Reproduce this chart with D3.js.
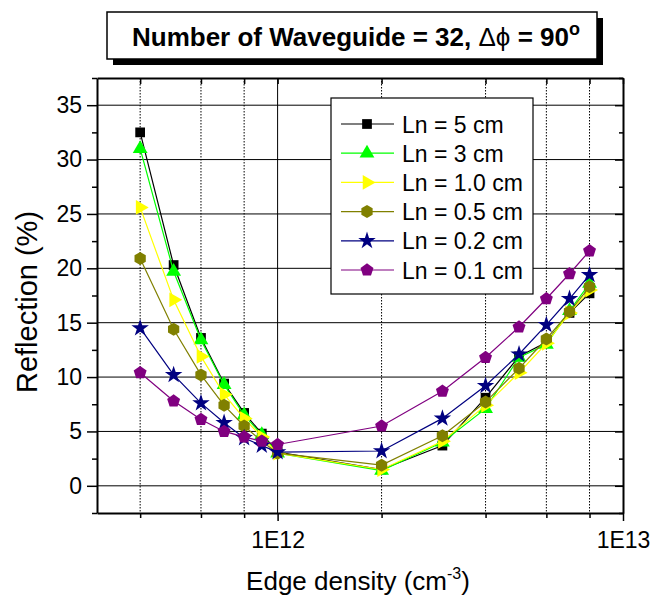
<!DOCTYPE html>
<html>
<head>
<meta charset="utf-8">
<script src="https://cdn.jsdelivr.net/npm/d3@7"></script>
<style>
  html, body { margin: 0; padding: 0; background: #fff; }
  svg { display: block; }
  text { font-family: "Liberation Sans", Arial, sans-serif; fill: #000; }
</style>
</head>
<body>
<svg id="chart" width="658" height="603"></svg>
<script>
// Edge density samples (cm^-3)
const density = [4e11, 5e11, 6e11, 7e11, 8e11, 9e11, 1e12, 2e12, 3e12, 4e12, 5e12, 6e12, 7e12, 8e12];

// Reflection (%) for each Ln
const ln5cm   = [32.5, 20.3, 13.6, 9.4, 6.7, 4.8, 3.1, 1.5, 3.7, 8.1, 11.9, 13.2, 15.9, 17.7];
const ln3cm   = [31.0, 19.7, 13.4, 9.3, 6.5, 4.7, 3.0, 1.4, 4.0, 7.1, 11.8, 13.0, 16.1, 18.6];
const ln1_0cm = [25.6, 17.1, 11.9, 8.4, 6.2, 4.5, 3.0, 1.5, 4.1, 7.4, 10.4, 13.1, 15.9, 18.0];
const ln0_5cm = [20.9, 14.4, 10.2, 7.4, 5.5, 4.1, 3.0, 1.9, 4.6, 7.7, 10.8, 13.5, 16.0, 18.3];
const ln0_2cm = [14.5, 10.2, 7.6, 5.8, 4.4, 3.7, 3.1, 3.2, 6.2, 9.2, 12.1, 14.8, 17.2, 19.4];
const ln0_1cm = [10.4, 7.8, 6.1, 5.0, 4.5, 4.1, 3.8, 5.5, 8.7, 11.8, 14.6, 17.2, 19.5, 21.6];

const seriesNames  = ["Ln = 5 cm", "Ln = 3 cm", "Ln = 1.0 cm", "Ln = 0.5 cm", "Ln = 0.2 cm", "Ln = 0.1 cm"];
const seriesValues = [ln5cm, ln3cm, ln1_0cm, ln0_5cm, ln0_2cm, ln0_1cm];
const seriesColors = ["#000000", "#00ff00", "#ffff00", "#808000", "#000080", "#800080"];

// Axis ticks
const xMajorTicks = [1e12, 1e13];
const xMajorLabels = ["1E12", "1E13"];
const xMinorTicks = [4e11, 6e11, 8e11, 2e12, 4e12, 6e12, 8e12];
const yMajorTicks = [0, 5, 10, 15, 20, 25, 30, 35];
const yMinorTicks = [-2.5, 2.5, 7.5, 12.5, 17.5, 22.5, 27.5, 32.5, 37.5];

const svg = d3.select("#chart");
const L = 97, R = 623, T = 78, B = 513;

const x = d3.scaleLog().domain([3e11, 1e13]).range([L, R]);
const y = d3.scaleLinear().domain([-2.5, 37.5]).range([B, T]);

// ---- marker shapes ----
function polygon(n, rot) {
  return {
    draw(ctx, size) {
      const r = Math.sqrt(size / (0.5 * n * Math.sin(2 * Math.PI / n)));
      for (let i = 0; i < n; i++) {
        const a = rot + i * 2 * Math.PI / n;
        const px = r * Math.sin(a), py = -r * Math.cos(a);
        if (i === 0) ctx.moveTo(px, py); else ctx.lineTo(px, py);
      }
      ctx.closePath();
    }
  };
}
const triUp = polygon(3, 0);
const triRight = polygon(3, Math.PI / 2);
const hexagon = polygon(6, 0);
const pentagon = polygon(5, 0);
const seriesSymbols = [d3.symbolSquare, triUp, triRight, hexagon, d3.symbolStar, pentagon];
const seriesSizes = [95, 95, 95, 110, 95, 110];

// ---- grid ----
const grid = svg.append("g");
grid.selectAll("line.h").data(yMajorTicks).join("line")
  .attr("x1", L).attr("x2", R)
  .attr("y1", d => y(d)).attr("y2", d => y(d))
  .attr("stroke", "#000").attr("stroke-width", 1);
grid.selectAll("line.v").data(xMinorTicks).join("line")
  .attr("x1", d => x(d)).attr("x2", d => x(d))
  .attr("y1", T).attr("y2", B)
  .attr("stroke", "#000").attr("stroke-width", 1)
  .attr("stroke-dasharray", "1.5,1.5");
grid.append("line")
  .attr("x1", x(1e12)).attr("x2", x(1e12))
  .attr("y1", T).attr("y2", B)
  .attr("stroke", "#000").attr("stroke-width", 1);

// ---- axes ----
function styleAxis(g, width) {
  g.select(".domain").attr("stroke-width", width);
  g.selectAll(".tick line").attr("stroke-width", 1.5);
}
// bottom
const xb = svg.append("g").attr("transform", `translate(0,${B})`)
  .call(d3.axisBottom(x).tickValues(xMajorTicks).tickSize(8).tickPadding(11)
    .tickFormat((d, i) => xMajorLabels[i]).tickSizeOuter(0));
xb.call(g => styleAxis(g, 2));
xb.selectAll("text").attr("font-size", 23).attr("font-family", "Liberation Sans, Arial, sans-serif");
svg.append("g").attr("transform", `translate(0,${B})`)
  .call(d3.axisBottom(x).tickValues(xMinorTicks).tickSize(5).tickFormat("").tickSizeOuter(0))
  .call(g => { g.select(".domain").remove(); g.selectAll(".tick line").attr("stroke-width", 1.5); });
// top
svg.append("g").attr("transform", `translate(0,${T})`)
  .call(d3.axisTop(x).tickValues(xMajorTicks.concat(xMinorTicks)).tickSize(-6).tickFormat("").tickSizeOuter(0))
  .call(g => styleAxis(g, 2));
// left
const yl = svg.append("g").attr("transform", `translate(${L},0)`)
  .call(d3.axisLeft(y).tickValues(yMajorTicks).tickSize(10).tickPadding(5).tickSizeOuter(0));
yl.call(g => styleAxis(g, 2));
yl.selectAll("text").attr("font-size", 23).attr("font-family", "Liberation Sans, Arial, sans-serif");
svg.append("g").attr("transform", `translate(${L},0)`)
  .call(d3.axisLeft(y).tickValues(yMinorTicks).tickSize(5).tickFormat("").tickSizeOuter(0))
  .call(g => { g.select(".domain").remove(); g.selectAll(".tick line").attr("stroke-width", 1.5); });
// right
svg.append("g").attr("transform", `translate(${R},0)`)
  .call(d3.axisRight(y).tickValues(yMajorTicks).tickSize(-8).tickFormat("").tickSizeOuter(0))
  .call(g => styleAxis(g, 2));
svg.append("g").attr("transform", `translate(${R},0)`)
  .call(d3.axisRight(y).tickValues(yMinorTicks).tickSize(-4).tickFormat("").tickSizeOuter(0))
  .call(g => { g.select(".domain").remove(); g.selectAll(".tick line").attr("stroke-width", 1.5); });

// ---- series ----
const lineGen = d3.line().x(d => x(d[0])).y(d => y(d[1]));
seriesValues.forEach((vals, i) => {
  const pts = density.map((d, j) => [d, vals[j]]);
  const g = svg.append("g");
  g.append("path").attr("d", lineGen(pts))
    .attr("fill", "none").attr("stroke", seriesColors[i]).attr("stroke-width", 1.2);
  g.selectAll("path.m").data(pts).join("path")
    .attr("class", "m")
    .attr("transform", d => `translate(${x(d[0])},${y(d[1])})`)
    .attr("d", d3.symbol(seriesSymbols[i], seriesSizes[i])())
    .attr("fill", seriesColors[i]);
});

// ---- legend ----
const leg = svg.append("g");
leg.append("rect").attr("x", 331).attr("y", 98).attr("width", 202).attr("height", 196)
  .attr("fill", "#fff").attr("stroke", "#000").attr("stroke-width", 1.2);
const legY = d3.scalePoint().domain(d3.range(seriesNames.length)).range([124, 270]);
seriesNames.forEach((name, i) => {
  const cy = legY(i);
  leg.append("line").attr("x1", 341).attr("x2", 394).attr("y1", cy).attr("y2", cy)
    .attr("stroke", seriesColors[i]).attr("stroke-width", 1.2);
  leg.append("path").attr("transform", `translate(367,${cy})`)
    .attr("d", d3.symbol(seriesSymbols[i], seriesSizes[i])())
    .attr("fill", seriesColors[i]);
  leg.append("text").attr("x", 402).attr("y", cy + 8.5)
    .attr("font-size", 23).text(name);
});

// ---- title box ----
svg.append("rect").attr("x", 113).attr("y", 18).attr("width", 490).attr("height", 47).attr("fill", "#000");
svg.append("rect").attr("x", 107).attr("y", 12).attr("width", 490).attr("height", 47)
  .attr("fill", "#fff").attr("stroke", "#000").attr("stroke-width", 1.5);
const title = svg.append("text").attr("x", 356).attr("y", 46).attr("text-anchor", "middle")
  .attr("font-size", 26).attr("font-weight", "bold");
title.append("tspan").text("Number of Waveguide = 32, ");
title.append("tspan").attr("font-weight", "normal").text("Δϕ");
title.append("tspan").text(" = 90");
title.append("tspan").attr("font-size", 18).attr("dy", -11).text("o");

// ---- axis titles ----
const xt = svg.append("text").attr("x", 358).attr("y", 590).attr("text-anchor", "middle").attr("font-size", 26);
xt.append("tspan").text("Edge density (cm");
xt.append("tspan").attr("font-size", 16).attr("dy", -11).text("-3");
xt.append("tspan").attr("dy", 11).text(")");

svg.append("text").attr("transform", `translate(37,302) rotate(-90)`)
  .attr("text-anchor", "middle").attr("font-size", 29).text("Reflection (%)");
</script>
</body>
</html>
